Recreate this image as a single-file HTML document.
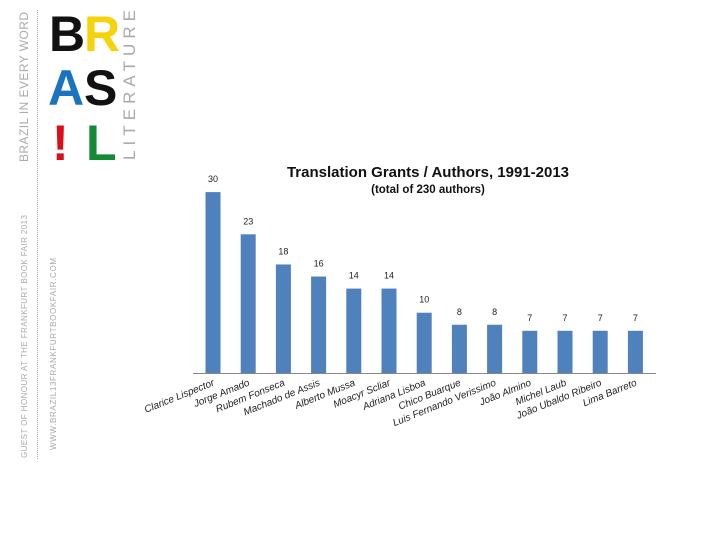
<!DOCTYPE html>
<html><head><meta charset="utf-8"><style>
body{margin:0;background:#fff;}
svg{display:block;font-family:"Liberation Sans",sans-serif;}
</style></head><body>
<svg width="720" height="540" viewBox="0 0 720 540">
<g font-weight="bold" font-size="50">
<text x="49" y="51" fill="#111">B</text>
<text x="84" y="51" fill="#f5d20a">R</text>
<text x="48" y="105" fill="#1a73c0">A</text>
<text x="84" y="105" fill="#111">S</text>
<text x="52" y="160" fill="#d8101a">!</text>
<text x="86" y="160" fill="#138a36">L</text>
</g>
<text transform="translate(135,160) rotate(-90)" font-size="17" fill="#aaa" textLength="150" lengthAdjust="spacing">LITERATURE</text>
<text transform="translate(28,162) rotate(-90)" font-size="12" fill="#aaa" textLength="150">BRAZIL IN EVERY WORD</text>
<text transform="translate(27,458) rotate(-90)" font-size="8" fill="#aaa" textLength="243">GUEST OF HONOUR AT THE FRANKFURT BOOK FAIR 2013</text>
<text transform="translate(56,450) rotate(-90)" font-size="8" fill="#aaa" textLength="192">WWW.BRAZIL13FRANKFURTBOOKFAIR.COM</text>
<line x1="37.5" y1="10" x2="37.5" y2="460" stroke="#aaa" stroke-dasharray="1,1"/>
<text x="428" y="177" text-anchor="middle" font-size="15" font-weight="bold" fill="#111">Translation Grants / Authors, 1991-2013</text>
<text x="428" y="193" text-anchor="middle" font-size="11.5" font-weight="bold" fill="#111">(total of 230 authors)</text>
<g id="plot"></g>
</svg>
<script>
const categories=["Clarice Lispector","Jorge Amado","Rubem Fonseca","Machado de Assis","Alberto Mussa","Moacyr Scliar","Adriana Lisboa","Chico Buarque","Luis Fernando Verissimo","João Almino","Michel Laub","João Ubaldo Ribeiro","Lima Barreto"];
const values=[30,23,18,16,14,14,10,8,8,7,7,7,7];
const ns="http://www.w3.org/2000/svg";
const g=document.getElementById('plot');
const baseY=373,x0=213,step=35.2,k=6.03,bw=15;
function xPos(i){return x0+i*step;}
function yPos(v){return baseY-v*k;}
function mk(t,a){const e=document.createElementNS(ns,t);for(const n in a)e.setAttribute(n,a[n]);g.appendChild(e);return e;}
categories.forEach((c,i)=>{
 const r=mk('rect',{x:xPos(i)-bw/2,y:yPos(values[i]),width:bw,height:values[i]*k,fill:'#4f81bd'});
 
 
 const v=mk('text',{x:xPos(i),y:yPos(values[i])-10,'text-anchor':'middle','font-size':'9',fill:'#222'});
 v.textContent=values[i];
 
 
 const l=mk('text',{transform:`translate(${xPos(i)+2},${baseY+12}) rotate(-22)`,'text-anchor':'end','font-size':'10','font-style':'italic',fill:'#222'});
 l.textContent=c;
 
 
});
const ax=mk('line',{x1:193,y1:baseY+0.5,x2:656,y2:baseY+0.5,stroke:'#888','stroke-width':1});


</script>
</body></html>
